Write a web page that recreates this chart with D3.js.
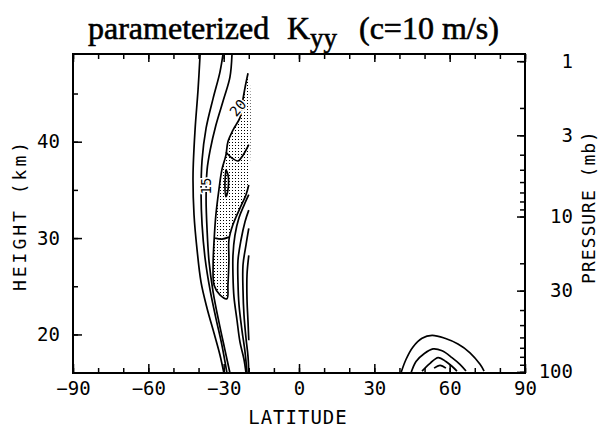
<!DOCTYPE html>
<html>
<head>
<meta charset="utf-8">
<script src="https://cdn.jsdelivr.net/npm/d3@7"></script>
<style>
body { margin: 0; background: #fff; }
</style>
</head>
<body>
<script>
// axis ticks
let latTicks = [-90, -60, -30, 0, 30, 60, 90];
let latMinor = d3.range(-90, 91, 10);
let kmTicks = [20, 30, 40];
let kmMinor = [20, 25, 30, 35, 40, 45];
let mbTicks = [1, 3, 10, 30, 100];
let mbMinor = [1,2,3,4,5,6,7,8,9,10,20,30,40,50,60,70,80,90,100];

// contour lines: [latitude, height km]
let c5 = [[-39.4,49.0],[-40.2,45.4],[-41.4,41.2],[-42.2,36.5],[-41.8,32.4],[-40.6,28.8],[-39.0,25.4],[-36.6,22.7],[-33.8,20.1],[-31.5,17.9],[-29.9,16.0]];
let c10 = [[-30.3,49.0],[-31.5,47.2],[-34.2,44.5],[-37.0,41.4],[-38.6,38.1],[-39.0,34.5],[-38.6,31.4],[-37.4,27.9],[-35.4,24.6],[-33.1,21.7],[-30.7,18.9],[-28.7,16.0]];
let c15 = [[-26.7,49.0],[-27.5,46.7],[-29.9,44.5],[-33.1,41.7],[-35.4,39.1],[-36.6,37.1],[-37.0,34.0],[-36.6,30.8],[-35.8,27.5],[-34.2,24.4],[-31.9,21.3],[-29.5,18.4],[-27.5,16.0]];
let c20 = [[-20.3,47.1],[-21.5,45.6],[-22.7,43.8],[-23.5,42.5],[-26.3,41.2],[-28.3,40.0],[-29.1,38.6],[-30.7,37.1],[-31.9,35.0],[-33.1,32.4],[-33.8,29.8],[-34.2,27.2],[-33.8,25.1],[-31.5,24.1],[-28.7,23.7],[-28.3,25.1],[-27.9,27.7],[-27.9,29.8],[-26.3,31.4],[-23.5,33.1],[-21.1,34.5],[-20.0,35.5]];
let c25a = [[-29.1,37.1],[-29.5,35.5],[-29.1,34.3],[-28.3,35.0],[-28.3,36.6],[-29.1,37.1]];
let c25b = [[-33.4,30.0],[-30.7,29.9],[-27.9,30.1]];
let c25c = [[-29.1,38.9],[-26.7,38.3],[-24.3,38.0],[-22.3,38.6],[-20.0,39.7]];
let r15 = [[-20.0,34.5],[-21.9,33.4],[-23.9,32.1],[-25.5,30.3],[-26.3,28.2],[-26.3,26.2],[-25.9,23.9],[-24.7,21.5],[-23.5,19.2],[-21.9,17.4],[-21.1,16.0]];
let r10 = [[-20.0,32.9],[-21.5,31.7],[-23.1,29.8],[-24.3,27.7],[-24.3,25.4],[-23.9,23.1],[-22.7,20.4],[-21.5,18.2],[-20.7,16.0]];
let r5 = [[-20.0,31.0],[-21.1,29.3],[-22.3,27.2],[-22.3,24.6],[-21.9,22.0],[-21.1,19.6],[-20.3,17.7],[-20.0,16.0]];
let r2 = [[-20.0,28.2],[-20.7,26.2],[-20.7,23.6],[-20.3,21.3],[-20.0,19.4]];
let n1 = [[40.6,16.0],[42.6,17.4],[45.4,18.7],[49.0,19.6],[53.0,19.9],[58.1,19.6],[63.3,19.0],[68.1,18.1],[72.1,16.9],[73.7,16.2]];
let n2 = [[44.6,16.0],[46.6,17.2],[49.8,18.0],[53.4,18.5],[57.0,18.3],[60.9,17.6],[64.1,16.9],[66.5,16.2]];
let n3 = [[49.0,16.2],[52.2,17.0],[55.4,17.6],[58.5,17.2],[60.9,16.7],[62.9,16.2]];
let n4 = [[53.8,16.5],[56.2,16.8],[58.5,16.5]];
let contourLabels = [["15", -37.0, 35.4, -90], ["20", -24.3, 43.5, -50]];

let W = 605, H = 432;
let mono = "DejaVu Sans Mono, monospace";

let svg = d3.select("body").append("svg")
  .attr("width", W).attr("height", H);

let x = d3.scaleLinear().domain([-90, 90]).range([73, 525]);
let y = d3.scaleLinear().domain([16, 49.1]).range([373, 54]);
// pressure axis, scale height 7 km
let p = d3.scaleLog().domain([1, 100])
  .range([y(7 * Math.log(1000)), y(7 * Math.log(10))]);

svg.append("defs").append("pattern")
  .attr("id", "dots").attr("width", 3).attr("height", 3)
  .attr("patternUnits", "userSpaceOnUse")
  .append("rect").attr("x", 1).attr("y", 1)
  .attr("width", 1).attr("height", 1).attr("fill", "#000");

let line = d3.line().x(d => x(d[0])).y(d => y(d[1])).curve(d3.curveCatmullRom);

// shaded region (closed against the -20 edge)
svg.append("path")
  .datum(c20.concat([[-20, 47.1]]))
  .attr("d", d3.line().x(d => x(d[0])).y(d => y(d[1])).curve(d3.curveCatmullRomClosed))
  .attr("fill", "url(#dots)");

let lines = [c5, c10, c15, c20, c25a, c25b, c25c, r15, r10, r5, r2, n1, n2, n3, n4];
svg.selectAll("path.c").data(lines).enter().append("path")
  .attr("class", "c")
  .attr("d", line)
  .attr("fill", "none").attr("stroke", "#000").attr("stroke-width", 1.7);

svg.selectAll("text.cl").data(contourLabels).enter().append("text")
  .attr("class", "cl")
  .attr("transform", d => `translate(${x(d[1])},${y(d[2])}) rotate(${d[3]})`)
  .attr("text-anchor", "middle").attr("dy", "0.35em")
  .attr("font-family", mono).attr("font-size", 14)
  .attr("stroke", "#fff").attr("stroke-width", 3).attr("paint-order", "stroke")
  .attr("fill", "#000")
  .text(d => d[0]);

// axes
function styleAxis(g) {
  g.select(".domain").remove();
  g.selectAll("line").attr("stroke", "#000").attr("stroke-width", 1.5);
  g.selectAll("text").attr("font-family", mono).attr("font-size", 19).attr("fill", "#000");
}

svg.append("g").attr("transform", "translate(0,373)")
  .call(d3.axisBottom(x).tickValues(latMinor).tickSizeInner(-5).tickSizeOuter(0).tickFormat(""))
  .call(styleAxis);
svg.append("g").attr("transform", "translate(0,373)")
  .call(d3.axisBottom(x).tickValues(latTicks).tickSizeInner(-9).tickSizeOuter(0).tickPadding(9)
    .tickFormat(d3.format("d")))
  .call(styleAxis);
svg.append("g").attr("transform", "translate(0,54)")
  .call(d3.axisTop(x).tickValues(latMinor).tickSizeInner(-5).tickSizeOuter(0).tickFormat(""))
  .call(styleAxis);
svg.append("g").attr("transform", "translate(0,54)")
  .call(d3.axisTop(x).tickValues(latTicks).tickSizeInner(-8).tickSizeOuter(0).tickFormat(""))
  .call(styleAxis);

svg.append("g").attr("transform", "translate(73,0)")
  .call(d3.axisLeft(y).tickValues(kmMinor).tickSizeInner(-5).tickSizeOuter(0).tickFormat(""))
  .call(styleAxis);
svg.append("g").attr("transform", "translate(73,0)")
  .call(d3.axisLeft(y).tickValues(kmTicks).tickSizeInner(-9).tickSizeOuter(0).tickPadding(13))
  .call(styleAxis);

svg.append("g").attr("transform", "translate(525,0)")
  .call(d3.axisRight(p).tickValues(mbMinor).tickSizeInner(-5).tickSizeOuter(0).tickFormat(""))
  .call(styleAxis);
let pAxis = svg.append("g").attr("transform", "translate(525,0)")
  .call(d3.axisRight(p).tickValues(mbTicks).tickSizeInner(-8).tickSizeOuter(0)
    .tickFormat(d3.format("d")))
  .call(styleAxis);
// right labels are right-aligned in the reference
pAxis.selectAll("text").attr("text-anchor", "end").attr("x", 48);

// frame
svg.append("rect")
  .attr("x", 73).attr("y", 54).attr("width", 452).attr("height", 319)
  .attr("fill", "none").attr("stroke", "#000").attr("stroke-width", 2);

// axis titles
svg.append("text").attr("x", 298).attr("y", 424)
  .attr("text-anchor", "middle").attr("font-family", mono).attr("font-size", 19)
  .attr("letter-spacing", 1).text("LATITUDE");
svg.append("text").attr("transform", "translate(26,215) rotate(-90)")
  .attr("text-anchor", "middle").attr("font-family", mono).attr("font-size", 18)
  .attr("letter-spacing", 3).text("HEIGHT (km)");
svg.append("text").attr("transform", "translate(595,207) rotate(-90)")
  .attr("text-anchor", "middle").attr("font-family", mono).attr("font-size", 18)
  .attr("letter-spacing", 1).text("PRESSURE (mb)");

// title
let serif = "Liberation Serif, Times New Roman, serif";
let title = svg.append("text").attr("y", 39)
  .attr("font-family", serif).attr("font-size", 32).attr("fill", "#000")
  .attr("stroke", "#000").attr("stroke-width", 0.6);
title.append("tspan").attr("x", 88).text("parameterized");
title.append("tspan").attr("x", 287).text("K");
title.append("tspan").attr("dy", 8).attr("font-size", 27).text("yy");
title.append("tspan").attr("x", 359).attr("dy", -8).text("(c=10 m/s)");
</script>
</body>
</html>
